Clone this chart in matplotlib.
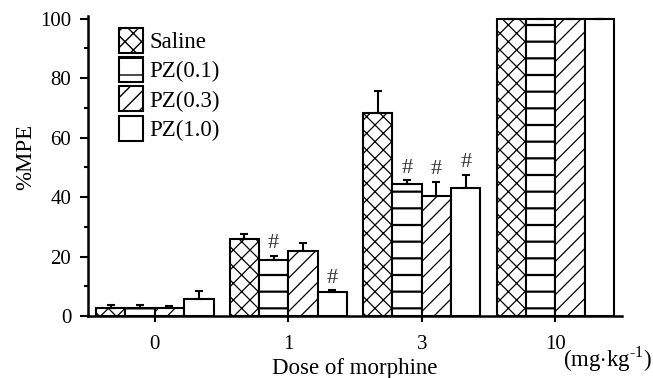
import matplotlib
matplotlib.use("Agg")
import matplotlib.pyplot as plt
import numpy as np

doses = ["0", "1", "3", "10"]
series = ["Saline", "PZ(0.1)", "PZ(0.3)", "PZ(1.0)"]
means = {
    "Saline":  [2.7, 25.8, 68.1, 100.0],
    "PZ(0.1)": [2.7, 18.8, 44.4, 100.0],
    "PZ(0.3)": [2.7, 21.9, 40.5, 100.0],
    "PZ(1.0)": [5.8, 8.1, 43.0, 100.0],
}
errs = {
    "Saline":  [1.1, 1.8, 7.6, 0.0],
    "PZ(0.1)": [1.1, 1.3, 1.2, 0.0],
    "PZ(0.3)": [0.5, 2.6, 4.5, 0.0],
    "PZ(1.0)": [2.6, 0.5, 4.5, 0.0],
}
# significance marks (#) : (series, dose index)
marks = [("PZ(0.1)", 1), ("PZ(1.0)", 1), ("PZ(0.1)", 2), ("PZ(0.3)", 2), ("PZ(1.0)", 2)]

hatches = ["xx", "-", "//", ""]
hatch_lw = [0.9, 1.6, 0.9, 1.0]

plt.rcParams["font.family"] = ["Liberation Serif", "DejaVu Serif"]
plt.rcParams["mathtext.fontset"] = "custom"
plt.rcParams["mathtext.rm"] = "Liberation Serif"

fig = plt.figure(figsize=(6.53, 3.78), dpi=100)
ax = fig.add_axes([0.1348, 0.164, 0.8177, 0.7947])

x = np.arange(len(doses))
w = 0.22
for i, s in enumerate(series):
    pos = x + (i - 1.5) * w
    with plt.rc_context({"hatch.linewidth": hatch_lw[i]}):
        ax.bar(pos, means[s], width=w, facecolor="white", edgecolor="black",
               linewidth=1.5, hatch=hatches[i], label=s, zorder=2)
    ax.errorbar(pos, means[s], yerr=[np.zeros(len(doses)), errs[s]], fmt="none",
                ecolor="black", elinewidth=1.5, capsize=3, capthick=1.5, zorder=3)

for s, d in marks:
    i = series.index(s)
    px = x[d] + (i - 1.5) * w
    py = means[s][d] + errs[s][d]
    ax.annotate("#", (px, py), xytext=(0, 2), textcoords="offset points",
                ha="center", va="bottom", fontsize=16, color="#333333")

ax.set_xlim(-0.5, 3.5)
ax.set_ylim(0, 101)
ax.set_xticks(x)
ax.set_xticklabels(doses)
ax.set_yticks([0, 20, 40, 60, 80, 100])
ax.set_yticks([10, 30, 50, 70, 90], minor=True)
ax.tick_params(axis="y", which="major", direction="out", length=6, width=1.5, labelsize=15, pad=6)
ax.tick_params(axis="y", which="minor", direction="out", length=3, width=1.5)
ax.tick_params(axis="x", which="major", direction="out", length=4, width=1.5, labelsize=15, pad=10)
for sp in ["top", "right"]:
    ax.spines[sp].set_visible(False)
for sp in ["left", "bottom"]:
    ax.spines[sp].set_linewidth(1.8)

ax.set_ylabel("%MPE", fontsize=16.5)
ax.yaxis.set_label_coords(-0.097, 0.53)
ax.set_xlabel("Dose of morphine", fontsize=16.5, labelpad=2.5)
fig.text(0.998, 0.05, r"(mg$\cdot$kg$^{\text{-1}}$)", ha="right", va="center", fontsize=16.5)

leg = ax.legend(loc="upper left", bbox_to_anchor=(0.040, 0.99), frameon=False,
                fontsize=16.5, handlelength=1.05, handleheight=1.3, handletextpad=0.3,
                labelspacing=0.18, borderaxespad=0)
fig.savefig("out.png", dpi=100)
